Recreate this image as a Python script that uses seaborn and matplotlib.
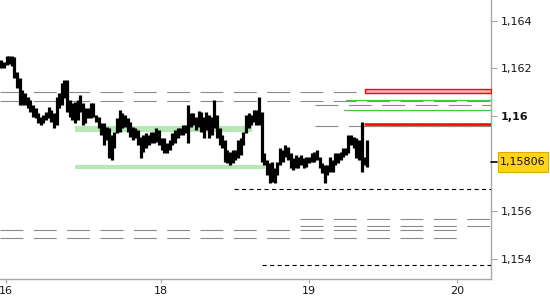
import numpy as np
import pandas as pd
import matplotlib
matplotlib.use("Agg")
import matplotlib.pyplot as plt
from matplotlib.patches import Rectangle
import seaborn as sns

# ---------------- data (prices in 1e-5 units) ----------------
highs_e5 = [116236,116227,116253,116253,116253,116248,116185,116160,116109,116097,
            116080,116067,116046,116034,116013,115996,116004,116017,116038,116025,
            116013,116080,116097,116139,116152,116152,116067,116055,116059,116067,
            116088,116055,116034,116034,116055,116055,116004,115996,115971,115971,
            115954,115949,115920,115933,115992,116025,116013,116004,115992,115975,
            115954,115949,115941,115912,115920,115928,115920,115933,115933,115949,
            115941,115907,115907,115886,115899,115928,115941,115949,115949,115962,
            115962,116046,116013,116013,115996,116021,116017,115996,116017,116004,
            115996,116067,116004,115949,115920,115899,115857,115848,115857,115857,
            115899,115907,115933,116004,116013,116004,116025,116025,116080,116017,
            115844,115815,115802,115806,115781,115806,115865,115857,115878,115869,
            115844,115823,115836,115827,115836,115823,115827,115827,115844,115848,
            115857,115827,115802,115794,115794,115827,115815,115844,115844,115848,
            115865,115865,115920,115920,115912,115907,115899,115975,115827,115899]
lows_e5 = [116202,116202,116215,116219,116211,116160,116118,116046,116046,116046,
           116034,116017,115996,115992,115971,115962,115971,115983,115992,115975,
           115949,115962,116034,116046,116076,116017,115996,115983,115971,115983,
           116017,115962,115971,115992,115992,115996,115975,115949,115920,115878,
           115899,115823,115815,115865,115928,115933,115949,115954,115933,115912,
           115899,115907,115878,115823,115848,115865,115878,115886,115886,115891,
           115878,115857,115844,115844,115857,115878,115886,115907,115920,115920,
           115928,115886,115954,115962,115941,115954,115933,115907,115941,115907,
           115920,115949,115907,115878,115865,115806,115802,115794,115802,115815,
           115823,115836,115878,115928,115949,115962,115975,115962,115962,115806,
           115794,115751,115718,115722,115718,115751,115794,115806,115827,115815,
           115781,115773,115781,115781,115794,115781,115785,115802,115806,115806,
           115815,115781,115760,115718,115751,115764,115764,115794,115802,115815,
           115827,115836,115844,115878,115865,115823,115815,115764,115794,115785]
last_price = 1.15806

# x axis (bar index units)
x_min, x_max = -0.5, 186.2
xtick_pos = [1.8, 60.7, 117.0, 173.3]
xtick_labels = ["16", "18", "19", "20"]

ytick_vals = [1.154, 1.156, 1.160, 1.162, 1.164]
ytick_labels = ["1,154", "1,156", "1,16", "1,162", "1,164"]
y_min, y_max = 1.15314, 1.16488

# gray dashed levels: price, start, end
gray_levels = [1.16102, 1.16061, 1.15522, 1.15485, 1.15565, 1.15536, 1.16046, 1.15956]
gray_start = [x_min, x_min, x_min, x_min, 113.6, 113.6, 119.3, 119.3]
gray_end = [x_max, x_max, 175.5, 175.5, x_max, x_max, x_max, x_max]

# black dotted levels
black_levels = [1.15693, 1.15372]
black_start = [88.5, 99.1]

# green bands (low, high, start, end)
band_low = [1.15934, 1.15777]
band_high = [1.15958, 1.15794]
band_start = [28.0, 28.0]
band_end = [95.3, 100.3]

# green thin lines
green_levels = [1.16066, 1.16024]
green_start = [131.1, 130.3]

# red zone
red_zone = (1.16095, 1.16112)
red_line = 1.15965
red_start = 138.3

# ---------------- plot ----------------
sns.set_theme(style="white")
plt.rcParams["font.family"] = ["DejaVu Sans"]
plt.rcParams["lines.scale_dashes"] = False

fig = plt.figure(figsize=(5.5, 3.0), dpi=100)
ax = fig.add_axes([0.0, 0.07, 491 / 550, 0.93])
ax.set_facecolor("white")

df = pd.DataFrame({"x": np.arange(len(highs_e5)),
                   "high": np.array(highs_e5) / 1e5,
                   "low": np.array(lows_e5) / 1e5})

# green bands
for lo, hi, s, e in zip(band_low, band_high, band_start, band_end):
    ax.fill_between([s, e], lo, hi, color="#b6e8b4", lw=0, zorder=1)

# gray dashed levels
for p, s, e in zip(gray_levels, gray_start, gray_end):
    ax.plot([s, e], [p, p], color="#8a8a8a", lw=0.8, dashes=(16.5, 7.5), zorder=2)

# red zone
ax.fill_between([red_start, x_max], red_zone[0], red_zone[1],
                facecolor="#ffb0b0", edgecolor="#ff0000", lw=1.0, zorder=3)
ax.plot([red_start, x_max], [red_line, red_line], color="#ff0000", lw=1.8, zorder=3)
ax.plot([red_start, x_max], [red_line - 0.00004, red_line - 0.00004], color="#ff2020",
        lw=0.8, zorder=3)
ax.plot([red_start, x_max], [gray_levels[7], gray_levels[7]], color="#8a8a8a", lw=0.8,
        dashes=(16.5, 7.5), zorder=3.5)

# green lines
for p, s in zip(green_levels, green_start):
    ax.plot([s, x_max], [p, p], color="#3ccc3c", lw=0.9, zorder=3)

# black dashed levels
for p, s in zip(black_levels, black_start):
    ax.plot([s, x_max], [p, p], color="black", lw=0.8, dashes=(3.0, 2.4), zorder=3)

# price bars
ax.vlines(df["x"], df["low"], df["high"], color="black", lw=2.3, zorder=4)

ax.set_xlim(x_min, x_max)
ax.set_ylim(y_min, y_max)

# axes styling
for side in ["left", "top"]:
    ax.spines[side].set_visible(False)
for side in ["right", "bottom"]:
    ax.spines[side].set_color("#a8a8a8")
    ax.spines[side].set_linewidth(1.0)

ax.yaxis.tick_right()
ax.set_yticks(ytick_vals)
ax.set_yticklabels(ytick_labels)
ax.set_xticks(xtick_pos)
ax.set_xticklabels(xtick_labels)
ax.tick_params(axis="y", which="both", right=True, left=False, length=4, width=0.8,
               color="#a8a8a8", labelsize=8, labelcolor="#151515", pad=3)
ax.tick_params(axis="x", which="both", bottom=True, length=3, width=0.8,
               color="#a8a8a8", labelsize=8, labelcolor="#151515", pad=2)
for lab in ax.get_yticklabels():
    if lab.get_text() == "1,16":
        lab.set_fontweight("bold")
ax.grid(False)

# current price marker
ytr = ax.get_yaxis_transform()
ax.plot([1.0, 1.012], [last_price, last_price], transform=ytr, color="black",
        lw=1.2, clip_on=False, zorder=6)
box_h = (y_max - y_min) * 20 / 279
ax.add_patch(Rectangle((498 / 491, last_price - box_h / 2), 50 / 491, box_h,
                       transform=ytr, facecolor="#ffd21c", edgecolor="#dcae00",
                       lw=0.8, clip_on=False, zorder=6))
ax.text(523 / 491, last_price, "1,15806", transform=ytr, ha="center", va="center",
        fontsize=8, color="#151515", zorder=7)

fig.savefig("out.png", dpi=100, facecolor="white")
